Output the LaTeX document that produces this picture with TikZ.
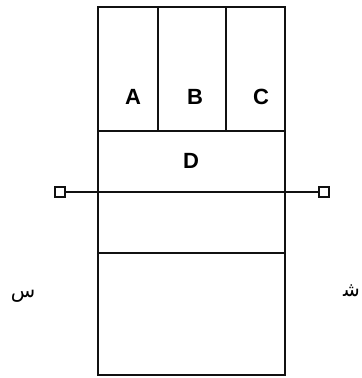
\documentclass[tikz,border=0pt]{standalone}
\usepackage{fontspec}
\setmainfont{Liberation Sans}
\newfontfamily\arabicfont[Script=Arabic]{DejaVu Sans}
\TeXXeTstate=1
\definecolor{linegray}{HTML}{111111}

\begin{document}
\begin{tikzpicture}[x=0.75pt, y=-0.75pt, line width=1.8pt,
  cell/.style={font=\fontsize{16.5}{19}\selectfont\bfseries, inner sep=0pt},
  term/.style={draw=linegray, line width=1.3pt, minimum size=7.4pt, inner sep=0pt},
  tag/.style={font=\arabicfont\fontsize{15}{18}\selectfont, inner sep=0pt}]
  \useasboundingbox (0,0) rectangle (361,378);
  \draw[linegray] (98,7) rectangle (285,375);
  \draw[linegray] (98,131) -- (285,131);
  \draw[linegray] (98,253) -- (285,253);
  \foreach \x in {158,226}{
    \draw[linegray] (\x,7) -- (\x,131);
  }
  \foreach \x/\t in {133/A,195/B,261/C}{
    \node[cell] (cell\t) at (\x,97) {\t};
  }
  \node[cell] (cellD) at (191,161) {D};
  \node[term] (termL) at (60,192) {};
  \node[term] (termR) at (324,192) {};
  \draw[linegray] (termL) -- (termR);
  \node[tag, anchor=base] (tagL) at (23,297) {\beginR س\endR};
  \node[tag, anchor=base east] (tagR) at (361,296) {\beginR ش‍\endR};
\end{tikzpicture}
\end{document}
